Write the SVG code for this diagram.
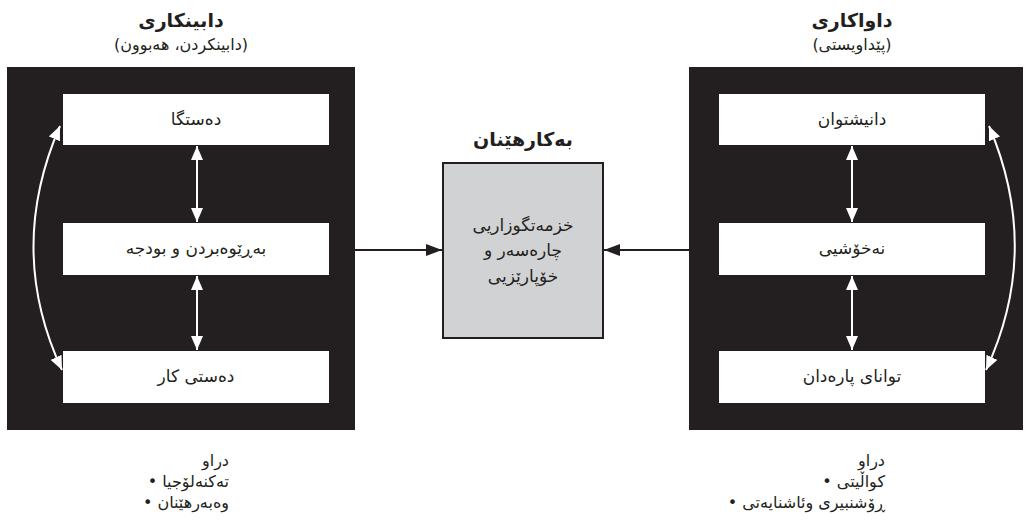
<svg xmlns="http://www.w3.org/2000/svg" width="1031" height="521" viewBox="0 0 1031 521">
<defs>
<style>
text{font-family:"DejaVu Sans","Noto Sans",sans-serif;fill:#231f20}
.t{font-size:19px;font-weight:bold}
.s{font-size:16px}
.b{font-size:17px}
.n{font-size:16px}
.panel{fill:#231f20}
.box{fill:#ffffff}
.wl{stroke:#ffffff;stroke-width:2;fill:none}
.bl{stroke:#231f20;stroke-width:2;fill:none}
</style>
<marker id="wh" viewBox="0 0 14 12" refX="14" refY="6" markerWidth="14" markerHeight="12" markerUnits="userSpaceOnUse" orient="auto-start-reverse">
<path d="M0,0 L14,6 L0,12 Z" fill="#ffffff"/>
</marker>
<marker id="bh" viewBox="0 0 16 12" refX="16" refY="6" markerWidth="16" markerHeight="12" markerUnits="userSpaceOnUse" orient="auto">
<path d="M0,0 L16,6 L0,12 Z" fill="#231f20"/>
</marker>
</defs>
<rect width="1031" height="521" fill="#ffffff"/>

<g id="supply">
<text class="t" x="181" y="27" text-anchor="middle" direction="rtl">دابینکاری</text>
<text class="s" x="181" y="50" text-anchor="middle" direction="rtl">(دابینکردن، هەبوون)</text>
<rect class="panel" x="7" y="67" width="348" height="363"/>
</g>
<g id="facilities">
<rect class="box" x="63" y="94" width="266" height="51"/>
<text class="b" x="196" y="125" text-anchor="middle" direction="rtl">دەستگا</text>
</g>
<g id="management">
<rect class="box" x="63" y="223" width="266" height="52"/>
<text class="b" x="196" y="254" text-anchor="middle" direction="rtl">بەڕێوەبردن و بودجە</text>
</g>
<g id="workforce">
<rect class="box" x="63" y="351" width="266" height="52"/>
<text class="b" x="196" y="382" text-anchor="middle" direction="rtl">دەستی کار</text>
</g>

<g id="demand">
<text class="t" x="852" y="27" text-anchor="middle" direction="rtl">داواکاری</text>
<text class="s" x="852" y="50" text-anchor="middle" direction="rtl">(پێداویستی)</text>
<rect class="panel" x="689" y="67" width="334" height="363"/>
</g>
<g id="population">
<rect class="box" x="719" y="94" width="266" height="51"/>
<text class="b" x="852" y="125" text-anchor="middle" direction="rtl">دانیشتوان</text>
</g>
<g id="illness">
<rect class="box" x="719" y="223" width="266" height="52"/>
<text class="b" x="852" y="254" text-anchor="middle" direction="rtl">نەخۆشیی</text>
</g>
<g id="ability">
<rect class="box" x="719" y="351" width="266" height="52"/>
<text class="b" x="852" y="382" text-anchor="middle" direction="rtl">توانای پارەدان</text>
</g>

<g id="use">
<text class="t" x="523" y="146" text-anchor="middle" direction="rtl">بەکارهێنان</text>
<rect x="443" y="163" width="160" height="175" fill="#d1d2d4" stroke="#231f20" stroke-width="2"/>
<text class="b" x="523" y="231" text-anchor="middle" direction="rtl">خزمەتگوزاریی</text>
<text class="b" x="523" y="256" text-anchor="middle" direction="rtl">چارەسەر و</text>
<text class="b" x="523" y="282" text-anchor="middle" direction="rtl">خۆپارێزیی</text>
</g>

<g id="notes-left">
<text class="n" x="229" y="466" text-anchor="start" direction="rtl">دراو</text>
<text class="n" x="229" y="487" text-anchor="start" direction="rtl">تەکنەلۆجیا •&#x200F;</text>
<text class="n" x="229" y="508" text-anchor="start" direction="rtl">وەبەرهێنان •&#x200F;</text>
</g>
<g id="notes-right">
<text class="n" x="885" y="466" text-anchor="start" direction="rtl">دراو</text>
<text class="n" x="885" y="487" text-anchor="start" direction="rtl">کواڵیتی •&#x200F;</text>
<text class="n" x="885" y="508" text-anchor="start" direction="rtl">ڕۆشنبیری وئاشنایەتی •&#x200F;</text>
</g>

<g id="connectors">
<line class="wl" x1="197" y1="146" x2="197" y2="222" marker-start="url(#wh)" marker-end="url(#wh)"/>
<line class="wl" x1="197" y1="276" x2="197" y2="350" marker-start="url(#wh)" marker-end="url(#wh)"/>
<line class="wl" x1="852" y1="146" x2="852" y2="222" marker-start="url(#wh)" marker-end="url(#wh)"/>
<line class="wl" x1="852" y1="276" x2="852" y2="350" marker-start="url(#wh)" marker-end="url(#wh)"/>
<path class="wl" d="M60,126 Q6,250 62,370" marker-start="url(#wh)" marker-end="url(#wh)"/>
<path class="wl" d="M989,126 Q1042,250 986,370" marker-start="url(#wh)" marker-end="url(#wh)"/>
<line class="bl" x1="355" y1="250" x2="442" y2="250" marker-end="url(#bh)"/>
<line class="bl" x1="689" y1="250" x2="604" y2="250" marker-end="url(#bh)"/>
</g>
</svg>
